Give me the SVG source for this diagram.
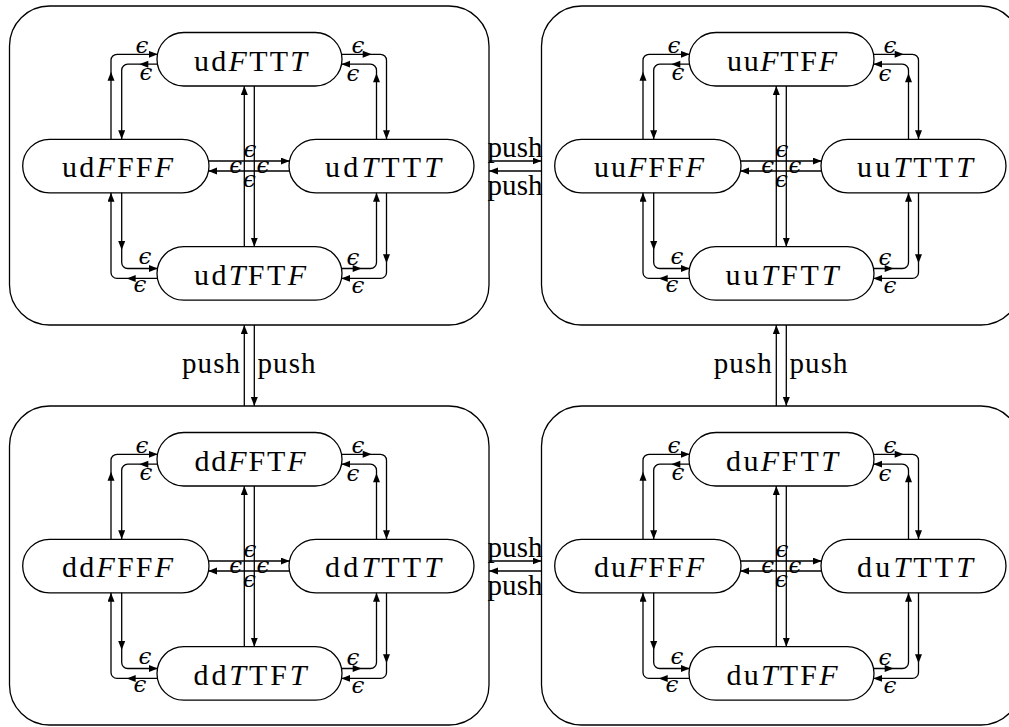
<svg xmlns="http://www.w3.org/2000/svg" xmlns:xlink="http://www.w3.org/1999/xlink" width="1009" height="727" viewBox="0 0 1009 727">
<style>
.box{fill:none;stroke:#000;stroke-width:1.3}
.node rect{fill:#fff;stroke:#000;stroke-width:1.3}
.lbl{font-family:"Liberation Serif",serif;font-size:30px;text-anchor:middle;fill:#000}
.i{font-style:italic}
.ln{fill:none;stroke:#000;stroke-width:1.3;marker-end:url(#arr)}
.eps{font-family:"DejaVu Serif","Liberation Serif",serif;font-style:italic;font-size:23px;text-anchor:middle;fill:#000}
.push{font-family:"Liberation Serif",serif;font-size:29px;fill:#000}
</style>
<defs>
<marker id="arr" markerUnits="userSpaceOnUse" markerWidth="10" markerHeight="8" refX="9" refY="3.5" orient="auto"><path d="M0,0 L9,3.5 L0,7 Z" fill="#000"/></marker>
<path id="ah" d="M0,0 L-9,-3.5 L-9,3.5 Z" fill="#000"/>
</defs>
<rect width="1009" height="727" fill="#fff"/>

<g id="cluster-ud">
<rect class="box" x="9.5" y="6" width="479.5" height="319" rx="40"/>
<g id="ud-FTTT" class="node"><rect x="157" y="32.5" width="185" height="53.5" rx="26.75"/><text class="lbl" x="250.5" y="70.5" textLength="113">ud<tspan class="i">F</tspan>TT<tspan class="i">T</tspan></text></g>
<g id="ud-FFFF" class="node"><rect x="22.7" y="139.3" width="186.3" height="53.5" rx="26.75"/><text class="lbl" x="117.5" y="177.2" textLength="111">ud<tspan class="i">F</tspan>FF<tspan class="i">F</tspan></text></g>
<g id="ud-TTTT" class="node"><rect x="289" y="139.3" width="185" height="53.5" rx="26.75"/><text class="lbl" x="383" y="177.2" textLength="116">ud<tspan class="i">T</tspan>TT<tspan class="i">T</tspan></text></g>
<g id="ud-TFTF" class="node"><rect x="157" y="246.7" width="185" height="53.5" rx="26.75"/><text class="lbl" x="250" y="284.7" textLength="112">ud<tspan class="i">T</tspan>FT<tspan class="i">F</tspan></text></g>
<g id="ud-connectors">
<path class="ln" d="M111,139.3 V60.3 A6,6 0 0 1 117,54.3 H157.7"/><use xlink:href="#ah" transform="translate(111,71.7) rotate(-90)"/>
<path class="ln" d="M157.7,64.2 H127.7 A6,6 0 0 0 121.7,70.2 V139.3"/><use xlink:href="#ah" transform="translate(139.3,64.2) rotate(180)"/>
<path class="ln" d="M341.3,54.3 H380.5 A6,6 0 0 1 386.5,60.3 V139.3"/><use xlink:href="#ah" transform="translate(371.7,54.3)"/>
<path class="ln" d="M376.5,139.3 V70.2 A6,6 0 0 0 370.5,64.2 H341.3"/><use xlink:href="#ah" transform="translate(376.5,73.3) rotate(-90)"/>
<path class="ln" d="M157.7,278.4 H117 A6,6 0 0 1 111,272.4 V192.8"/><use xlink:href="#ah" transform="translate(126.7,278.4) rotate(180)"/>
<path class="ln" d="M121.7,192.8 V262.5 A6,6 0 0 0 127.7,268.5 H157.7"/><use xlink:href="#ah" transform="translate(121.7,250) rotate(90)"/>
<path class="ln" d="M341.3,268.5 H370.5 A6,6 0 0 0 376.5,262.5 V192.8"/><use xlink:href="#ah" transform="translate(361.7,268.5)"/>
<path class="ln" d="M386.5,192.8 V272.4 A6,6 0 0 1 380.5,278.4 H341.3"/><use xlink:href="#ah" transform="translate(386.5,263.3) rotate(90)"/>
<path class="ln" d="M244.3,246.7 V86"/>
<path class="ln" d="M254.3,86 V246.7"/>
<path class="ln" d="M208.3,161 H289.7"/>
<path class="ln" d="M289.7,171 H208.3"/>
<text class="eps" x="142" y="53">ϵ</text><text class="eps" x="146" y="80">ϵ</text>
<text class="eps" x="358" y="53">ϵ</text><text class="eps" x="353" y="81">ϵ</text>
<text class="eps" x="145" y="264">ϵ</text><text class="eps" x="140" y="292">ϵ</text>
<text class="eps" x="353" y="265">ϵ</text><text class="eps" x="358" y="293">ϵ</text>
<text class="eps" x="250" y="157">ϵ</text><text class="eps" x="235.7" y="172.7">ϵ</text>
<text class="eps" x="263" y="172.7">ϵ</text><text class="eps" x="249.5" y="187">ϵ</text>
</g>
</g>

<g id="cluster-uu" transform="translate(532,0)">
<rect class="box" x="9.5" y="6" width="479.5" height="319" rx="40"/>
<g id="uu-FTFF" class="node"><rect x="157" y="32.5" width="185" height="53.5" rx="26.75"/><text class="lbl" x="250" y="70.5" textLength="110">uu<tspan class="i">F</tspan>TF<tspan class="i">F</tspan></text></g>
<g id="uu-FFFF" class="node"><rect x="22.7" y="139.3" width="186.3" height="53.5" rx="26.75"/><text class="lbl" x="117" y="177.2" textLength="110">uu<tspan class="i">F</tspan>FF<tspan class="i">F</tspan></text></g>
<g id="uu-TTTT" class="node"><rect x="289" y="139.3" width="185" height="53.5" rx="26.75"/><text class="lbl" x="383" y="177.2" textLength="116">uu<tspan class="i">T</tspan>TT<tspan class="i">T</tspan></text></g>
<g id="uu-TFTT" class="node"><rect x="157" y="246.7" width="185" height="53.5" rx="26.75"/><text class="lbl" x="250" y="284.7" textLength="113">uu<tspan class="i">T</tspan>FT<tspan class="i">T</tspan></text></g>
<g id="uu-connectors">
<path class="ln" d="M111,139.3 V60.3 A6,6 0 0 1 117,54.3 H157.7"/><use xlink:href="#ah" transform="translate(111,71.7) rotate(-90)"/>
<path class="ln" d="M157.7,64.2 H127.7 A6,6 0 0 0 121.7,70.2 V139.3"/><use xlink:href="#ah" transform="translate(139.3,64.2) rotate(180)"/>
<path class="ln" d="M341.3,54.3 H380.5 A6,6 0 0 1 386.5,60.3 V139.3"/><use xlink:href="#ah" transform="translate(371.7,54.3)"/>
<path class="ln" d="M376.5,139.3 V70.2 A6,6 0 0 0 370.5,64.2 H341.3"/><use xlink:href="#ah" transform="translate(376.5,73.3) rotate(-90)"/>
<path class="ln" d="M157.7,278.4 H117 A6,6 0 0 1 111,272.4 V192.8"/><use xlink:href="#ah" transform="translate(126.7,278.4) rotate(180)"/>
<path class="ln" d="M121.7,192.8 V262.5 A6,6 0 0 0 127.7,268.5 H157.7"/><use xlink:href="#ah" transform="translate(121.7,250) rotate(90)"/>
<path class="ln" d="M341.3,268.5 H370.5 A6,6 0 0 0 376.5,262.5 V192.8"/><use xlink:href="#ah" transform="translate(361.7,268.5)"/>
<path class="ln" d="M386.5,192.8 V272.4 A6,6 0 0 1 380.5,278.4 H341.3"/><use xlink:href="#ah" transform="translate(386.5,263.3) rotate(90)"/>
<path class="ln" d="M244.3,246.7 V86"/>
<path class="ln" d="M254.3,86 V246.7"/>
<path class="ln" d="M208.3,161 H289.7"/>
<path class="ln" d="M289.7,171 H208.3"/>
<text class="eps" x="142" y="53">ϵ</text><text class="eps" x="146" y="80">ϵ</text>
<text class="eps" x="358" y="53">ϵ</text><text class="eps" x="353" y="81">ϵ</text>
<text class="eps" x="145" y="264">ϵ</text><text class="eps" x="140" y="292">ϵ</text>
<text class="eps" x="353" y="265">ϵ</text><text class="eps" x="358" y="293">ϵ</text>
<text class="eps" x="250" y="157">ϵ</text><text class="eps" x="235.7" y="172.7">ϵ</text>
<text class="eps" x="263" y="172.7">ϵ</text><text class="eps" x="249.5" y="187">ϵ</text>
</g>
</g>

<g id="cluster-dd" transform="translate(0,400)">
<rect class="box" x="9.5" y="6" width="479.5" height="319" rx="40"/>
<g id="dd-FFTF" class="node"><rect x="157" y="32.5" width="185" height="53.5" rx="26.75"/><text class="lbl" x="250" y="70.5" textLength="111">dd<tspan class="i">F</tspan>FT<tspan class="i">F</tspan></text></g>
<g id="dd-FFFF" class="node"><rect x="22.7" y="139.3" width="186.3" height="53.5" rx="26.75"/><text class="lbl" x="117.5" y="177.2" textLength="111">dd<tspan class="i">F</tspan>FF<tspan class="i">F</tspan></text></g>
<g id="dd-TTTT" class="node"><rect x="289" y="139.3" width="185" height="53.5" rx="26.75"/><text class="lbl" x="383" y="177.2" textLength="116">dd<tspan class="i">T</tspan>TT<tspan class="i">T</tspan></text></g>
<g id="dd-TTFT" class="node"><rect x="157" y="246.7" width="185" height="53.5" rx="26.75"/><text class="lbl" x="250" y="284.7" textLength="113">dd<tspan class="i">T</tspan>TF<tspan class="i">T</tspan></text></g>
<g id="dd-connectors">
<path class="ln" d="M111,139.3 V60.3 A6,6 0 0 1 117,54.3 H157.7"/><use xlink:href="#ah" transform="translate(111,71.7) rotate(-90)"/>
<path class="ln" d="M157.7,64.2 H127.7 A6,6 0 0 0 121.7,70.2 V139.3"/><use xlink:href="#ah" transform="translate(139.3,64.2) rotate(180)"/>
<path class="ln" d="M341.3,54.3 H380.5 A6,6 0 0 1 386.5,60.3 V139.3"/><use xlink:href="#ah" transform="translate(371.7,54.3)"/>
<path class="ln" d="M376.5,139.3 V70.2 A6,6 0 0 0 370.5,64.2 H341.3"/><use xlink:href="#ah" transform="translate(376.5,73.3) rotate(-90)"/>
<path class="ln" d="M157.7,278.4 H117 A6,6 0 0 1 111,272.4 V192.8"/><use xlink:href="#ah" transform="translate(126.7,278.4) rotate(180)"/>
<path class="ln" d="M121.7,192.8 V262.5 A6,6 0 0 0 127.7,268.5 H157.7"/><use xlink:href="#ah" transform="translate(121.7,250) rotate(90)"/>
<path class="ln" d="M341.3,268.5 H370.5 A6,6 0 0 0 376.5,262.5 V192.8"/><use xlink:href="#ah" transform="translate(361.7,268.5)"/>
<path class="ln" d="M386.5,192.8 V272.4 A6,6 0 0 1 380.5,278.4 H341.3"/><use xlink:href="#ah" transform="translate(386.5,263.3) rotate(90)"/>
<path class="ln" d="M244.3,246.7 V86"/>
<path class="ln" d="M254.3,86 V246.7"/>
<path class="ln" d="M208.3,161 H289.7"/>
<path class="ln" d="M289.7,171 H208.3"/>
<text class="eps" x="142" y="53">ϵ</text><text class="eps" x="146" y="80">ϵ</text>
<text class="eps" x="358" y="53">ϵ</text><text class="eps" x="353" y="81">ϵ</text>
<text class="eps" x="145" y="264">ϵ</text><text class="eps" x="140" y="292">ϵ</text>
<text class="eps" x="353" y="265">ϵ</text><text class="eps" x="358" y="293">ϵ</text>
<text class="eps" x="250" y="157">ϵ</text><text class="eps" x="235.7" y="172.7">ϵ</text>
<text class="eps" x="263" y="172.7">ϵ</text><text class="eps" x="249.5" y="187">ϵ</text>
</g>
</g>

<g id="cluster-du" transform="translate(532,400)">
<rect class="box" x="9.5" y="6" width="479.5" height="319" rx="40"/>
<g id="du-FFTT" class="node"><rect x="157" y="32.5" width="185" height="53.5" rx="26.75"/><text class="lbl" x="250" y="70.5" textLength="112">du<tspan class="i">F</tspan>FT<tspan class="i">T</tspan></text></g>
<g id="du-FFFF" class="node"><rect x="22.7" y="139.3" width="186.3" height="53.5" rx="26.75"/><text class="lbl" x="117" y="177.2" textLength="110">du<tspan class="i">F</tspan>FF<tspan class="i">F</tspan></text></g>
<g id="du-TTTT" class="node"><rect x="289" y="139.3" width="185" height="53.5" rx="26.75"/><text class="lbl" x="383" y="177.2" textLength="116">du<tspan class="i">T</tspan>TT<tspan class="i">T</tspan></text></g>
<g id="du-TTFF" class="node"><rect x="157" y="246.7" width="185" height="53.5" rx="26.75"/><text class="lbl" x="250" y="284.7" textLength="111">du<tspan class="i">T</tspan>TF<tspan class="i">F</tspan></text></g>
<g id="du-connectors">
<path class="ln" d="M111,139.3 V60.3 A6,6 0 0 1 117,54.3 H157.7"/><use xlink:href="#ah" transform="translate(111,71.7) rotate(-90)"/>
<path class="ln" d="M157.7,64.2 H127.7 A6,6 0 0 0 121.7,70.2 V139.3"/><use xlink:href="#ah" transform="translate(139.3,64.2) rotate(180)"/>
<path class="ln" d="M341.3,54.3 H380.5 A6,6 0 0 1 386.5,60.3 V139.3"/><use xlink:href="#ah" transform="translate(371.7,54.3)"/>
<path class="ln" d="M376.5,139.3 V70.2 A6,6 0 0 0 370.5,64.2 H341.3"/><use xlink:href="#ah" transform="translate(376.5,73.3) rotate(-90)"/>
<path class="ln" d="M157.7,278.4 H117 A6,6 0 0 1 111,272.4 V192.8"/><use xlink:href="#ah" transform="translate(126.7,278.4) rotate(180)"/>
<path class="ln" d="M121.7,192.8 V262.5 A6,6 0 0 0 127.7,268.5 H157.7"/><use xlink:href="#ah" transform="translate(121.7,250) rotate(90)"/>
<path class="ln" d="M341.3,268.5 H370.5 A6,6 0 0 0 376.5,262.5 V192.8"/><use xlink:href="#ah" transform="translate(361.7,268.5)"/>
<path class="ln" d="M386.5,192.8 V272.4 A6,6 0 0 1 380.5,278.4 H341.3"/><use xlink:href="#ah" transform="translate(386.5,263.3) rotate(90)"/>
<path class="ln" d="M244.3,246.7 V86"/>
<path class="ln" d="M254.3,86 V246.7"/>
<path class="ln" d="M208.3,161 H289.7"/>
<path class="ln" d="M289.7,171 H208.3"/>
<text class="eps" x="142" y="53">ϵ</text><text class="eps" x="146" y="80">ϵ</text>
<text class="eps" x="358" y="53">ϵ</text><text class="eps" x="353" y="81">ϵ</text>
<text class="eps" x="145" y="264">ϵ</text><text class="eps" x="140" y="292">ϵ</text>
<text class="eps" x="353" y="265">ϵ</text><text class="eps" x="358" y="293">ϵ</text>
<text class="eps" x="250" y="157">ϵ</text><text class="eps" x="235.7" y="172.7">ϵ</text>
<text class="eps" x="263" y="172.7">ϵ</text><text class="eps" x="249.5" y="187">ϵ</text>
</g>
</g>

<g id="push-connectors">
<path class="ln" d="M489,161 H541.5"/>
<path class="ln" d="M541.5,171 H489"/>
<path class="ln" d="M489,561 H541.5"/>
<path class="ln" d="M541.5,571 H489"/>
<path class="ln" d="M244.3,406 V325"/>
<path class="ln" d="M254.3,325 V406"/>
<path class="ln" d="M776.3,406 V325"/>
<path class="ln" d="M786.3,325 V406"/>
<text class="push" x="515" y="157" text-anchor="middle" textLength="55">push</text>
<text class="push" x="515" y="195" text-anchor="middle" textLength="55">push</text>
<text class="push" x="515" y="557" text-anchor="middle" textLength="55">push</text>
<text class="push" x="515" y="595" text-anchor="middle" textLength="55">push</text>
<text class="push" x="240" y="373" text-anchor="end" textLength="58">push</text>
<text class="push" x="257.5" y="373" text-anchor="start" textLength="58">push</text>
<text class="push" x="771.7" y="373" text-anchor="end" textLength="58">push</text>
<text class="push" x="789.5" y="373" text-anchor="start" textLength="58">push</text>
</g>
</svg>
